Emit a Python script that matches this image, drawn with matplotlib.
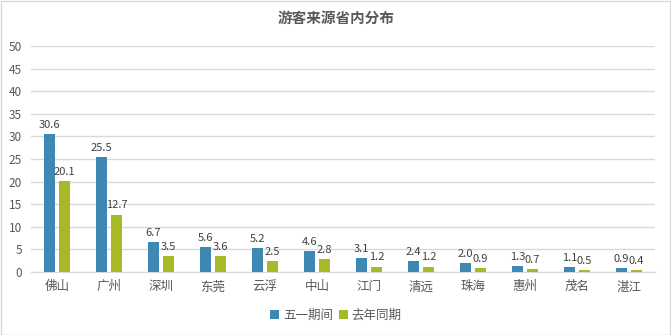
import matplotlib
matplotlib.use("Agg")
import matplotlib.pyplot as plt
import numpy as np
from matplotlib.patches import Rectangle

plt.rcParams['font.family'] = ['Noto Sans CJK SC', 'DejaVu Sans']

categories = ['佛山', '广州', '深圳', '东莞', '云浮', '中山', '江门', '清远', '珠海', '惠州', '茂名', '湛江']
may_day = [30.6, 25.5, 6.7, 5.6, 5.2, 4.6, 3.1, 2.4, 2.0, 1.3, 1.1, 0.9]
last_year = [20.1, 12.7, 3.5, 3.6, 2.5, 2.8, 1.2, 1.2, 0.9, 0.7, 0.5, 0.4]
series_names = ['五一期间', '去年同期']
title = '游客来源省内分布'

blue = '#3E88B4'
green = '#A8B928'
grid = '#D9D9D9'
text_c = '#595959'

fig = plt.figure(figsize=(6.71, 3.35), dpi=100)
ax = fig.add_axes([31/671, 1-272/335, (655-31)/671, (272-46)/335])

x = np.arange(len(categories))
w = 0.22
off = 0.145
b1 = ax.bar(x - off, may_day, w, color=blue, label=series_names[0], zorder=3)
b2 = ax.bar(x + off, last_year, w, color=green, label=series_names[1], zorder=3)

for rect, v in zip(b1, may_day):
    ax.annotate(f'{v:.1f}', (rect.get_x() + rect.get_width()/2, v), xytext=(0, 3),
                textcoords='offset points', ha='center', va='bottom', fontsize=8, color='#404040')
for rect, v in zip(b2, last_year):
    ax.annotate(f'{v:.1f}', (rect.get_x() + rect.get_width()/2, v), xytext=(0, 3),
                textcoords='offset points', ha='center', va='bottom', fontsize=8, color='#404040')

ax.set_xlim(-0.5, len(categories) - 0.5)
ax.set_ylim(0, 50)
ax.set_yticks(np.arange(0, 51, 5))
ax.set_xticks(x)
ax.set_xticklabels(categories, fontsize=9, color=text_c)
ax.tick_params(axis='y', labelsize=8.5, colors=text_c, length=0, pad=6.5)
ax.tick_params(axis='x', length=0, pad=6)
ax.grid(axis='y', color=grid, linewidth=1, zorder=0)
for s in ['top', 'right', 'left']:
    ax.spines[s].set_visible(False)
ax.spines['bottom'].set_color(grid)

fig.text(336/671, 1-18/335, title, ha='center', va='center', fontsize=10.5,
         fontweight='bold', color=text_c)

leg = fig.legend(loc='center', bbox_to_anchor=(336/671, 1-315/335), ncol=2, frameon=False,
                 fontsize=9, handlelength=0.7, handleheight=0.7, handletextpad=0.3,
                 columnspacing=0.5)
for t in leg.get_texts():
    t.set_color(text_c)

fig.patches.append(Rectangle((0.5/671, 0.5/335), 1-1.5/671, 1-1.5/335, transform=fig.transFigure,
                             fill=False, edgecolor=grid, linewidth=1))

fig.savefig('out.png', dpi=100)
